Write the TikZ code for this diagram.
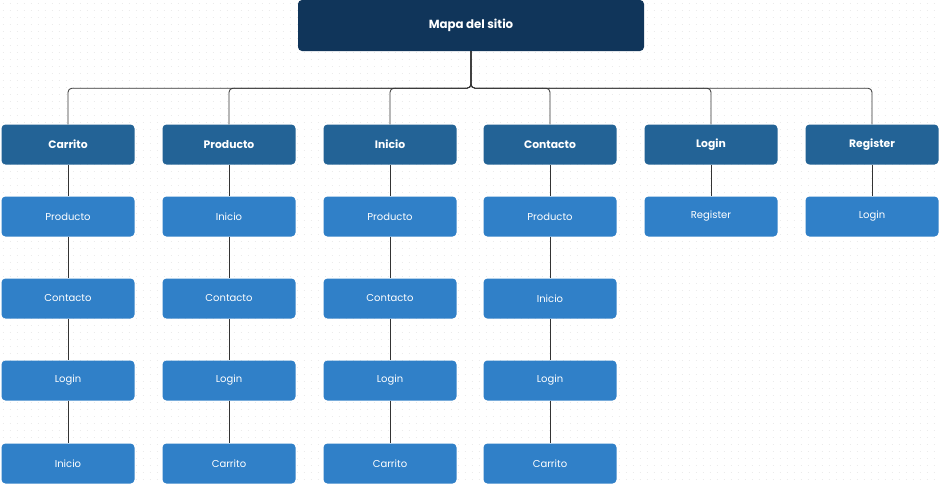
\documentclass[tikz,border=0pt]{standalone}
\usepackage{fontspec}
\setmainfont{Poppins}
\definecolor{rootc}{HTML}{10355A}
\definecolor{lvl1}{HTML}{236396}
\definecolor{lvl2}{HTML}{3080C8}
\definecolor{dotc}{HTML}{EBEBEB}
\definecolor{linec}{HTML}{333333}
\begin{document}
\begin{tikzpicture}[x=1pt,y=-1pt,
  rootbox/.style={fill=rootc,rounded corners=4pt,minimum width=346pt,minimum height=51pt,text=white,font=\fontsize{11.8}{13}\selectfont\bfseries,inner sep=0pt},
  headbox/.style={fill=lvl1,rounded corners=4pt,minimum width=133pt,minimum height=40pt,text=white,font=\fontsize{10.8}{12}\selectfont\bfseries,inner sep=0pt},
  itembox/.style={fill=lvl2,rounded corners=4pt,minimum width=133pt,minimum height=40pt,text=white,font=\fontsize{10}{11}\selectfont,inner sep=0pt},
  link/.style={draw=linec,line width=0.8pt},
  bus/.style={draw=linec,line width=0.8pt,rounded corners=4pt},
  dotrow/.style={draw=dotc,line width=1.5pt,dash pattern=on 1.5pt off 5.5pt}]
\useasboundingbox (0,0) rectangle (939,485);
\fill[white] (0,0) rectangle (939,485);
\foreach \j in {0,...,69} {\draw[dotrow] (2.5,\j*7+3.25) -- (939,\j*7+3.25);}

\node[rootbox] (root) at (471,25.5) {Mapa del sitio};

% level 1
\node[headbox] (h1) at (68,144.5) {Carrito};
\node[headbox] (h2) at (229,144.5) {Producto};
\node[headbox] (h3) at (390,144.5) {Inicio};
\node[headbox] (h4) at (550,144.5) {Contacto};
\node[headbox] (h5) at (711,144.5) {Login};
\node[headbox] (h6) at (872,144.5) {Register};

\foreach \h in {h1,h2,h3,h4,h5,h6}{
  \draw[bus] (root.south) -- ++(0,37) -| (\h.north);
}

% Carrito column
\node[itembox] (a1) at (68,216.5) {Producto};
\node[itembox] (a2) at (68,298.5) {Contacto};
\node[itembox] (a3) at (68,380.5) {Login};
\node[itembox] (a4) at (68,463.5) {Inicio};
% Producto column
\node[itembox] (b1) at (229,216.5) {Inicio};
\node[itembox] (b2) at (229,298.5) {Contacto};
\node[itembox] (b3) at (229,380.5) {Login};
\node[itembox] (b4) at (229,463.5) {Carrito};
% Inicio column
\node[itembox] (c1) at (390,216.5) {Producto};
\node[itembox] (c2) at (390,298.5) {Contacto};
\node[itembox] (c3) at (390,380.5) {Login};
\node[itembox] (c4) at (390,463.5) {Carrito};
% Contacto column
\node[itembox] (d1) at (550,216.5) {Producto};
\node[itembox] (d2) at (550,298.5) {Inicio};
\node[itembox] (d3) at (550,380.5) {Login};
\node[itembox] (d4) at (550,463.5) {Carrito};
% Login column
\node[itembox] (e1) at (711,216.5) {Register};
% Register column
\node[itembox] (f1) at (872,216.5) {Login};

\foreach \p/\c in {h1/a1,a1/a2,a2/a3,a3/a4,h2/b1,b1/b2,b2/b3,b3/b4,h3/c1,c1/c2,c2/c3,c3/c4,h4/d1,d1/d2,d2/d3,d3/d4,h5/e1,h6/f1}{
  \draw[link] (\p.south) -- (\c.north);
}
\end{tikzpicture}
\end{document}
